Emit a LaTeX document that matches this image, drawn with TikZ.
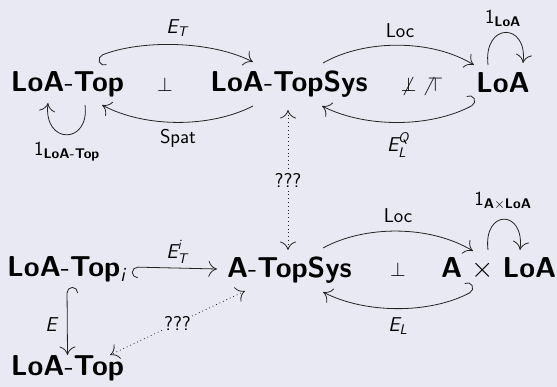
\documentclass[tikz,border=0pt]{standalone}
\usepackage{fix-cm}
\usepackage{amsmath}
\usepackage{fontspec}
\usetikzlibrary{arrows.meta}
\definecolor{bgcol}{RGB}{233,233,243}
\definecolor{linecol}{RGB}{35,35,35}
\begin{document}
\begin{tikzpicture}[x=1pt,y=-1pt,
  obj/.style={font=\fontsize{28.8}{34}\selectfont\sffamily, anchor=base, inner sep=0pt},
  lab/.style={font=\fontsize{20}{24}\selectfont\sffamily, inner sep=1pt},
  cmtip/.tip={Computer Modern Rightarrow[length=8.5pt,width=16pt]},
  hookL/.tip={Hooks[arc=180,left,length=6pt,width=22pt]},
  hookR/.tip={Hooks[arc=180,right,length=6pt,width=22pt]},
  arr/.style={draw=linecol, line width=0.8pt, -cmtip},
  hookarrL/.style={draw=linecol, line width=0.8pt, hookL-cmtip},
  hookarrR/.style={draw=linecol, line width=0.8pt, hookR-cmtip},
  dotarr/.style={draw=linecol, line width=0.8pt, dash pattern=on 0.8pt off 3pt, cmtip-cmtip},
  mid/.style={lab, fill=bgcol}
]
\fill[bgcol] (0,0) rectangle (557,387);
\useasboundingbox (0,0) rectangle (557,387);

% objects, top row
\node[obj] (lt)  at (67.5,92) {\textbf{LoA}-\textbf{Top}};
\node[obj] (lts) at (289,92)  {\textbf{LoA}-\textbf{TopSys}};
\node[obj] (loa) at (503,93)  {\textbf{LoA}};
\node[lab, anchor=base] (perpA) at (165,92) {$\perp$};
\node[lab, anchor=base] (nperp) at (422,92) {$\not\perp\;\not\top$};

% objects, lower rows
\node[obj, anchor=base west] (lti) at (7,277) {\textbf{LoA}-\textbf{Top}$_{\textit{i}}$};
\node[obj] (ats) at (289.5,278) {\textbf{A}-\textbf{TopSys}};
\node[obj, anchor=base east] (axl) at (556.5,278) {\textbf{A} $\times$ \textbf{LoA}};
\node[obj] (ltb) at (67.5,375) {\textbf{LoA}-\textbf{Top}};
\node[lab, anchor=base] (perpB) at (398,277) {$\perp$};

% top row arrows
\draw[hookarrL] ([shift={(29.5,-35)}]lt.base) .. controls (140,40) and (210,40) .. ([shift={(-36,-30)}]lts.base);
\draw[arr] ([shift={(-36,14)}]lts.base) .. controls (210,128) and (145,128) .. ([shift={(34.5,13)}]lt.base);
\draw[arr] ([shift={(17.5,13)}]lt.base) .. controls (90,145) and (43,145) .. ([shift={(-19.5,11)}]lt.base);
\draw[arr] ([shift={(34,-29)}]lts.base) .. controls (365,39) and (432,39) .. ([shift={(-29,-28)}]loa.base);
\draw[hookarrL] ([shift={(-26,10)}]loa.base) .. controls (430,128) and (365,128) .. ([shift={(33,14)}]lts.base);
\draw[arr] ([shift={(-15,-28)}]loa.base) .. controls (483,22) and (528,22) .. ([shift={(20,-30)}]loa.base);

% vertical comparison
\draw[dotarr] ([shift={(-1,18)}]lts.base) -- node[mid] (q1) {???} ([shift={(-1.5,-28)}]ats.base);

% lower arrows
\draw[hookarrL] ([shift={(125,-10)}]lti.base west) -- ([shift={(-72.5,-9)}]ats.base);
\draw[hookarrR] ([shift={(60,10)}]lti.base west) -- ([shift={(0,-20)}]ltb.base);
\draw[dotarr] ([shift={(-44.5,13)}]ats.base) -- node[mid, inner sep=0pt] (q2) {???} ([shift={(42.5,-20)}]ltb.base);
\draw[arr] ([shift={(33.5,-30)}]ats.base) .. controls (365,225) and (430,225) .. ([shift={(-83.5,-27)}]axl.base east);
\draw[hookarrL] ([shift={(-81.5,12)}]axl.base east) .. controls (430,314) and (365,314) .. ([shift={(33.5,14)}]ats.base);
\draw[arr] ([shift={(-68.5,-28)}]axl.base east) .. controls (483,209) and (525,209) .. ([shift={(-36.5,-28)}]axl.base east);

% arrow labels
\node[lab] (lET)   at (177,28)  {$\textit{E}_{\textit{T}}$};
\node[lab] (lSpat) at (178,138) {Spat};
\node[lab] (lid1)  at (67,152)  {$\text{1}_{\textbf{LoA-Top}}$};
\node[lab] (lLocA) at (400,31)  {Loc};
\node[lab] (lELQ)  at (398,145) {$\textit{E}^{\textit{Q}}_{\textit{L}}$};
\node[lab] (lid2)  at (503,18)  {$\text{1}_{\textbf{LoA}}$};
\node[lab] (lETi)  at (177,252) {$\textit{E}^{\textit{i}}_{\textit{T}}$};
\node[lab] (lLocB) at (398,216) {Loc};
\node[lab] (lEL)   at (398,326) {$\textit{E}_{\textit{L}}$};
\node[lab] (lid3)  at (503,201) {$\text{1}_{\textbf{A}\times\textbf{LoA}}$};
\node[lab] (lE)    at (51,325)  {$\textit{E}$};
\end{tikzpicture}
\end{document}
